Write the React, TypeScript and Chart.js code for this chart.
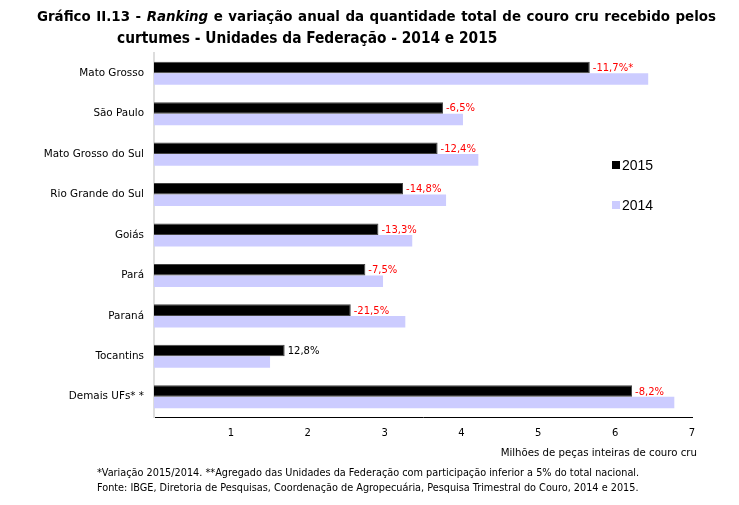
import React, { useEffect, useRef } from "react";
import { Chart, registerables } from "chart.js";

Chart.register(...registerables);

const categories = [
  "Mato Grosso",
  "São Paulo",
  "Mato Grosso do Sul",
  "Rio Grande do Sul",
  "Goiás",
  "Pará",
  "Paraná",
  "Tocantins",
  "Demais UFs* *",
];
const values2015 = [5.67, 3.76, 3.69, 3.24, 2.92, 2.75, 2.56, 1.7, 6.22];
const values2014 = [6.43, 4.02, 4.22, 3.8, 3.36, 2.98, 3.27, 1.51, 6.77];
const changeLabels = ["-11,7%*", "-6,5%", "-12,4%", "-14,8%", "-13,3%", "-7,5%", "-21,5%", "12,8%", "-8,2%"];
const seriesNames = ["2015", "2014"];
const xAxisTitle = "Milhões de peças inteiras de couro cru";

const FONT = '"DejaVu Sans", Verdana, sans-serif';
const NARROW = '"Liberation Sans Narrow", "Arial Narrow", "DejaVu Sans Condensed", sans-serif';
const COLOR_2015 = "#000000";
const COLOR_2014 = "#ccccff";

const annotate = {
  id: "annotate",
  afterDatasetsDraw(chart: any) {
    const ctx = chart.ctx;
    const meta = chart.getDatasetMeta(0);
    ctx.save();
    ctx.font = `10px ${FONT}`;
    ctx.textBaseline = "middle";
    ctx.textAlign = "left";
    meta.data.forEach((el: any, i: number) => {
      const lbl = changeLabels[i];
      ctx.fillStyle = lbl.startsWith("-") ? "#ff0000" : "#000000";
      ctx.fillText(lbl, el.x + 3, el.y + 1);
    });
    // legend
    const { chartArea } = chart;
    const lx = chartArea.right - 80;
    const ys = [chartArea.top + 112, chartArea.top + 152];
    const cols = [COLOR_2015, COLOR_2014];
    ctx.font = `14px "Liberation Sans", Arial, sans-serif`;
    seriesNames.forEach((n, i) => {
      ctx.fillStyle = cols[i];
      ctx.fillRect(lx, ys[i] - 4, 8, 8);
      ctx.fillStyle = "#000";
      ctx.fillText(n, lx + 10, ys[i] + 1);
    });
    // x axis title
    ctx.font = `10.2px ${FONT}`;
    ctx.textAlign = "right";
    ctx.fillStyle = "#000";
    ctx.fillText(xAxisTitle, chartArea.right + 5, chartArea.bottom + 36);
    ctx.restore();
  },
};

export default function App() {
  const ref = useRef<HTMLCanvasElement>(null);
  useEffect(() => {
    const chart = new Chart(ref.current as HTMLCanvasElement, {
      type: "bar",
      data: {
        labels: categories,
        datasets: [
          {
            label: seriesNames[0],
            data: values2015,
            backgroundColor: COLOR_2015,
            borderColor: "#444",
            borderWidth: 1,
            categoryPercentage: 0.57,
            barPercentage: 1,
          },
          {
            label: seriesNames[1],
            data: values2014,
            backgroundColor: COLOR_2014,
            borderWidth: 0,
            categoryPercentage: 0.57,
            barPercentage: 1,
          },
        ],
      },
      options: {
        indexAxis: "y",
        responsive: false,
        animation: false,
        layout: { padding: { top: 53, right: 47, left: 0, bottom: 0 } },
        plugins: { legend: { display: false }, tooltip: { enabled: false }, title: { display: false } },
        scales: {
          x: {
            min: 0,
            max: 7,
            afterFit: (a: any) => {
              a.height = 88;
            },
            grid: { display: false, drawTicks: true, tickLength: 4, color: "#000" } as any,
            border: { color: "#000", width: 1 },
            ticks: {
              stepSize: 1,
              padding: 6,
              color: "#000",
              font: { family: FONT, size: 10 },
              callback: (v: any) => (v === 0 ? "" : String(v)),
            },
          },
          y: {
            afterFit: (a: any) => {
              a.width = 154;
            },
            grid: { display: false, drawTicks: false },
            border: { color: "#dddddd", width: 2 },
            ticks: { padding: 10, color: "#000", font: { family: FONT, size: 10.4 } },
          },
        },
      },
      plugins: [annotate],
    });
    return () => chart.destroy();
  }, []);

  return (
    <div style={{ position: "fixed", left: 0, top: 0, width: 739, height: 505, background: "#fff" }}>
      <canvas ref={ref} width={739} height={505} style={{ position: "absolute", left: 0, top: 0 }} />
      <div
        style={{
          position: "absolute",
          left: 37,
          top: 7,
          width: 679,
          height: 18,
          overflow: "visible",
          font: `bold 14.9px ${NARROW}`,
          lineHeight: "18px",
          textAlign: "justify",
          textAlignLast: "justify",
        } as any}
      >
        Gráfico II.13 - <i>Ranking</i> e variação anual da quantidade total de couro cru recebido pelos
      </div>
      <div
        style={{
          position: "absolute",
          left: 117,
          top: 29,
          font: `bold 15.3px ${NARROW}`,
          lineHeight: "18px",
          whiteSpace: "nowrap",
        }}
      >
        curtumes - Unidades da Federação - 2014 e 2015
      </div>
      <div
        style={{
          position: "absolute",
          left: 97,
          top: 465,
          font: `10.8px ${NARROW}`,
          lineHeight: "15px",
          whiteSpace: "nowrap",
        }}
      >
        <div>*Variação 2015/2014. **Agregado das Unidades da Federação com participação inferior a 5% do total nacional.</div>
        <div>Fonte: IBGE, Diretoria de Pesquisas, Coordenação de Agropecuária, Pesquisa Trimestral do Couro, 2014 e 2015.</div>
      </div>
    </div>
  );
}
